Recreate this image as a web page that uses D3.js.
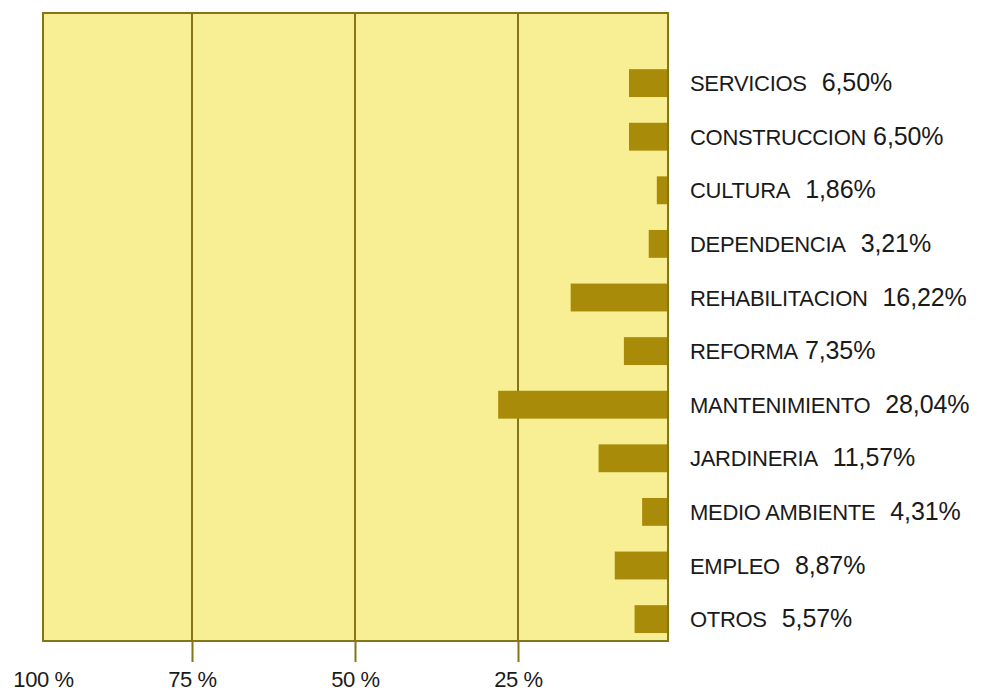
<!DOCTYPE html>
<html>
<head>
<meta charset="utf-8">
<script src="https://cdn.jsdelivr.net/npm/d3@7"></script>
<style>
  body { margin: 0; background: #fff; }
  svg { display: block; }
</style>
</head>
<body>
<svg id="chart" width="985" height="693"></svg>
<script>
const categories = ["SERVICIOS", "CONSTRUCCION", "CULTURA", "DEPENDENCIA", "REHABILITACION",
  "REFORMA", "MANTENIMIENTO", "JARDINERIA", "MEDIO AMBIENTE", "EMPLEO", "OTROS"];
const values = [6.50, 6.50, 1.86, 3.21, 16.22, 7.35, 28.04, 11.57, 4.31, 8.87, 5.57];
const tickValues = [100, 75, 50, 25];
// labels printed with a single space before the value
const tightLabels = ["CONSTRUCCION", "REFORMA"];

const frame = { left: 43, right: 668, top: 13, bottom: 641 };
const bg = "#f8ee93";
const olive = "#857517";
const barColor = "#a88b09";
const font = "'Liberation Sans', Arial, Helvetica, sans-serif";

const svg = d3.select("#chart");

// the printed grid isn't perfectly even, so map each quarter separately
const x = d3.scaleLinear()
  .domain([0, 25, 50, 75, 100])
  .range([frame.right, 518, 355, 192, frame.left]);

const y = d3.scaleBand()
  .domain(categories)
  .range([56.3, 645.9])
  .paddingInner(0.48)
  .paddingOuter(0.24);

// plot background
svg.append("rect")
  .attr("x", frame.left)
  .attr("y", frame.top)
  .attr("width", frame.right - frame.left)
  .attr("height", frame.bottom - frame.top)
  .attr("fill", bg);

// vertical grid lines (25, 50, 75)
svg.selectAll(".grid")
  .data(tickValues.filter(d => d < 100))
  .enter()
  .append("line")
  .attr("class", "grid")
  .attr("x1", d => x(d))
  .attr("x2", d => x(d))
  .attr("y1", frame.top)
  .attr("y2", frame.bottom)
  .attr("stroke", olive)
  .attr("stroke-width", 2);

// bars grow leftwards from zero
svg.selectAll(".bar")
  .data(values)
  .enter()
  .append("rect")
  .attr("class", "bar")
  .attr("x", d => x(d))
  .attr("y", (d, i) => y(categories[i]))
  .attr("width", d => x(0) - x(d))
  .attr("height", y.bandwidth())
  .attr("fill", barColor);

// frame
svg.append("rect")
  .attr("x", frame.left)
  .attr("y", frame.top)
  .attr("width", frame.right - frame.left)
  .attr("height", frame.bottom - frame.top)
  .attr("fill", "none")
  .attr("stroke", olive)
  .attr("stroke-width", 2);

// bottom axis
const axis = svg.append("g")
  .attr("transform", `translate(0,${frame.bottom})`)
  .call(d3.axisBottom(x)
    .tickValues(tickValues)
    .tickFormat(d => d + " %")
    .tickSize(21));

axis.select(".domain").remove();
axis.selectAll(".tick line")
  .attr("stroke", olive)
  .attr("stroke-width", 2)
  .attr("opacity", d => d === 100 ? 0 : 1);
axis.selectAll(".tick text")
  .attr("y", 30)
  .attr("dy", "0.71em")
  .attr("fill", "#1a1a1a")
  .style("font-family", font)
  .style("font-size", "22px")
  .style("letter-spacing", "-0.4px");

// category labels with values
const labels = svg.selectAll(".label")
  .data(categories)
  .enter()
  .append("text")
  .attr("class", "label")
  .attr("x", 690)
  .attr("y", d => y(d) + y.bandwidth() / 2)
  .attr("dy", "0.5em")
  .attr("fill", "#1a1a1a")
  .style("font-family", font);

labels.append("tspan")
  .style("font-size", "22px")
  .style("letter-spacing", "-0.3px")
  .text(d => d);

labels.append("tspan")
  .attr("dx", d => tightLabels.includes(d) ? 7 : 15)
  .style("font-size", "25px")
  .style("letter-spacing", "-0.1px")
  .text((d, i) => values[i].toFixed(2).replace(".", ",") + "%");
</script>
</body>
</html>
